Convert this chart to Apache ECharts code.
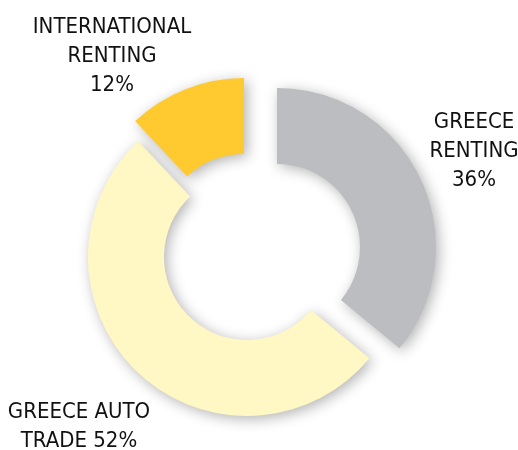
<!DOCTYPE html>
<html>
<head>
<meta charset="utf-8">
<script src="https://cdn.jsdelivr.net/npm/echarts@6/dist/echarts.min.js"></script>
<style>
  html, body { margin: 0; padding: 0; background: #fff; }
  #chart { width: 518px; height: 450px; }
</style>
</head>
<body>
<div id="chart"></div>
<script>
const categories = ['GREECE RENTING', 'GREECE AUTO TRADE', 'INTERNATIONAL RENTING'];
const shares = [36, 52, 12];
const labelNames = ['GREECE\nRENTING\n', 'GREECE AUTO\nTRADE ', 'INTERNATIONAL\nRENTING\n'];

const colors = ['#bcbdc0', '#fff8c4', '#ffca2f'];
// every slice is pulled out by its own amount, so each one sits in its own pie
const centers = [[277, 247], [247, 257], [244, 237]];
const labelPos = [[474, 151], [79, 427], [112, 56]];

const chart = echarts.init(document.getElementById('chart'));

const series = categories.map((own, k) => ({
  type: 'pie',
  center: centers[k],
  radius: [83, 159],
  startAngle: 90,
  silent: true,
  animation: false,
  avoidLabelOverlap: false,
  data: categories.map((name, i) => ({
    name: name,
    value: shares[i],
    itemStyle: i === k
      ? { color: colors[i], shadowBlur: 14, shadowColor: 'rgba(0,0,0,0.3)', shadowOffsetX: 3, shadowOffsetY: 3 }
      : { color: 'rgba(0,0,0,0)' },
    label: { show: i === k }
  })),
  itemStyle: { borderWidth: 0 },
  label: {
    formatter: p => labelNames[p.dataIndex] + p.value + '%',
    fontFamily: '"DejaVu Sans Condensed", "Liberation Sans", sans-serif',
    fontSize: 22,
    lineHeight: 29,
    color: '#111',
    align: 'center'
  },
  labelLine: { show: false },
  labelLayout: () => ({ x: labelPos[k][0], y: labelPos[k][1], align: 'center', verticalAlign: 'middle' })
}));

chart.setOption({ backgroundColor: '#fff', series: series });
</script>
</body>
</html>
